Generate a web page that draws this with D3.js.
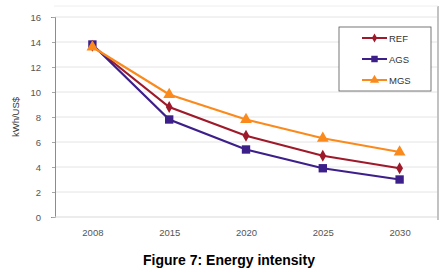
<!DOCTYPE html>
<html>
<head>
<meta charset="utf-8">
<script src="https://cdn.jsdelivr.net/npm/d3@7"></script>
<style>
  body { margin: 0; background: #fff; }
  text { font-family: "Liberation Sans", Arial, sans-serif; }
</style>
</head>
<body>
<svg id="chart"></svg>
<script>
let years = ["2008", "2015", "2020", "2025", "2030"];
let ref = [13.7, 8.8, 6.5, 4.9, 3.9];
let ags = [13.8, 7.8, 5.4, 3.9, 3.0];
let mgs = [13.6, 9.8, 7.8, 6.3, 5.2];
let yTicks = [0, 2, 4, 6, 8, 10, 12, 14, 16];

let series = [
  { name: "REF", values: ref, color: "#9e1a2a", shape: d3.symbolDiamond, size: 40 },
  { name: "AGS", values: ags, color: "#3d1f8a", shape: d3.symbolSquare, size: 70 },
  { name: "MGS", values: mgs, color: "#fb8a1c", shape: d3.symbolTriangle, size: 60 }
];

let width = 444, height = 274;
let svg = d3.select("#chart")
  .attr("width", width)
  .attr("height", height);

let xax = d3.scalePoint()
  .domain(years)
  .range([54, 438])
  .padding(0.5);

let yax = d3.scaleLinear()
  .domain([0, 16])
  .range([217, 17]);

// frame on the right
svg.append("line")
  .attr("x1", 438).attr("x2", 438)
  .attr("y1", 6).attr("y2", 220)
  .attr("stroke", "#9a9a9a").attr("stroke-width", 1.2);
svg.append("line")
  .attr("x1", 54).attr("x2", 438)
  .attr("y1", 6).attr("y2", 6)
  .attr("stroke", "#eeeeee");

// gridlines
svg.append("g")
  .selectAll("line")
  .data(yTicks.filter(d => d > 0))
  .join("line")
    .attr("x1", 55).attr("x2", 437)
    .attr("y1", d => yax(d)).attr("y2", d => yax(d))
    .attr("stroke", "#e4e4e4");

let yAxis = svg.append("g")
  .attr("transform", "translate(55,0)")
  .call(d3.axisLeft(yax).tickValues(yTicks).tickSize(4).tickPadding(10));
yAxis.select(".domain").attr("stroke", "#8c8c8c");
yAxis.selectAll(".tick line").attr("stroke", "#a6a6a6").attr("x2", -3);
yAxis.selectAll("text").attr("fill", "#555").style("font-size", "9.5px");

svg.append("line")
  .attr("x1", 55).attr("x2", 437)
  .attr("y1", yax(0)).attr("y2", yax(0))
  .attr("stroke", "#d9d9d9");

let xAxis = svg.append("g")
  .attr("transform", `translate(0,${yax(0)})`)
  .call(d3.axisBottom(xax).tickSize(0).tickPadding(12));
xAxis.select(".domain").remove();
xAxis.selectAll("text").attr("fill", "#555").style("font-size", "9.5px");

svg.append("text")
  .attr("transform", "translate(19,117) rotate(-90)")
  .attr("text-anchor", "middle")
  .attr("fill", "#333")
  .style("font-size", "9.5px")
  .text("kWh/US$");

let linegen = d3.line()
  .x((d, i) => xax(years[i]))
  .y(d => yax(d));

let g = svg.append("g").attr("id", "curves");
series.forEach(s => {
  g.append("path")
    .attr("d", linegen(s.values))
    .attr("stroke", s.color)
    .attr("stroke-width", 2.2)
    .attr("fill", "none");
  g.selectAll(null)
    .data(s.values)
    .join("path")
      .attr("transform", (d, i) => `translate(${xax(years[i])},${yax(d)})`)
      .attr("d", d3.symbol().type(s.shape).size(s.size))
      .attr("fill", s.color);
});

// legend
let legend = svg.append("g").attr("transform", "translate(339,27)");
legend.append("rect")
  .attr("width", 92).attr("height", 64)
  .attr("fill", "#fff")
  .attr("stroke", "#555").attr("stroke-width", 0.8);
series.forEach((s, i) => {
  let ly = 11 + i * 21;
  legend.append("line")
    .attr("x1", 23).attr("x2", 48)
    .attr("y1", ly).attr("y2", ly)
    .attr("stroke", s.color).attr("stroke-width", 2);
  legend.append("path")
    .attr("transform", `translate(35.5,${ly})`)
    .attr("d", d3.symbol().type(s.shape).size(s.size * 0.6))
    .attr("fill", s.color);
  legend.append("text")
    .attr("x", 50).attr("y", ly + 3.5)
    .attr("fill", "#333")
    .style("font-size", "9.5px")
    .text(s.name);
});

svg.append("text")
  .attr("x", 229).attr("y", 265)
  .attr("text-anchor", "middle")
  .attr("fill", "#000")
  .style("font-size", "14px")
  .style("font-weight", "bold")
  .text("Figure 7: Energy intensity");
</script>
</body>
</html>
